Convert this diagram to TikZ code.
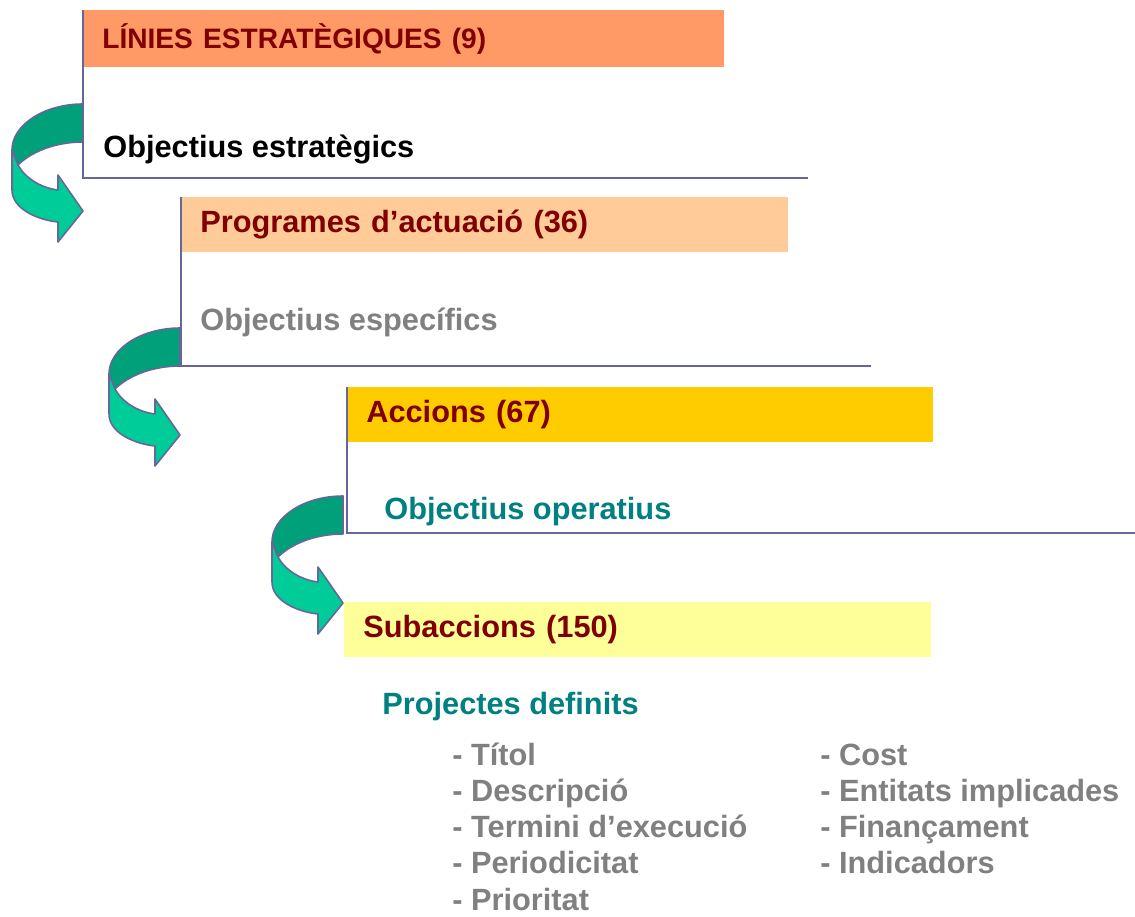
\documentclass[tikz,border=0pt]{standalone}
\usepackage{fontspec}
\setmainfont{Liberation Sans}
\usetikzlibrary{positioning}
\definecolor{salmon}{RGB}{255,153,102}
\definecolor{peach}{RGB}{255,204,153}
\definecolor{gold}{RGB}{255,204,0}
\definecolor{paleyellow}{RGB}{255,255,153}
\definecolor{darkred}{RGB}{128,0,0}
\definecolor{tealtxt}{RGB}{0,128,128}
\definecolor{greytxt}{RGB}{128,128,128}
\definecolor{framecol}{RGB}{102,102,153}
\definecolor{greendark}{RGB}{0,160,122}
\definecolor{greenlight}{RGB}{0,204,153}

\tikzset{
  uturn/.pic={
    \filldraw[fill=greendark, draw=framecol, line width=0.9pt, line join=round]
      (0,0) .. controls (-39,0) and (-71,21) .. (-71,46) -- (-65,61)
      .. controls (-52,48) and (-28,38) .. (0,38) -- cycle;
    \filldraw[fill=greenlight, draw=framecol, line width=0.9pt, line join=round]
      (-71,46) -- (-71,86) .. controls (-71,105) and (-45,116) .. (-25,118)
      -- (-25,138) -- (0,107) -- (-25,71) -- (-25,86)
      .. controls (-42,84) and (-58,74) .. (-65,61) -- cycle;
  }
}

\begin{document}
\begin{tikzpicture}[
  x=0.02cm, y=-0.02cm,
  headbox/.style={rectangle, anchor=north west, inner xsep=0.38cm, inner ysep=0pt,
                  align=left, text=darkred, font=\fontsize{17.5}{21}\selectfont\bfseries},
  txt/.style={anchor=base west, inner sep=0pt, font=\fontsize{17.5}{21}\selectfont\bfseries},
  frame/.style={draw=framecol, line width=0.9pt}
]
\useasboundingbox (0,0) rectangle (1135,916);

% headers
\node[headbox, fill=salmon, text width=12.06cm, minimum height=1.14cm] (lin) at (83,10)
  {{\fontsize{16}{20}\selectfont LÍNIES ESTRATÈGIQUES (9)}};
\node[headbox, fill=peach, text width=11.38cm, minimum height=1.1cm] (prog) at (181,197)
  {Programes d’actuació (36)};
\node[headbox, fill=gold, text width=10.96cm, minimum height=1.1cm] (acc) at (347,387)
  {Accions (67)};
\node[headbox, fill=paleyellow, text width=10.98cm, minimum height=1.1cm] (sub) at (344,602)
  {Subaccions (150)};

% frames
\draw[frame] (lin.north west) -- (83,178) -- (808,178);
\draw[frame] (prog.north west) -- (181,366) -- (871,366);
\draw[frame] (acc.north west) -- (347,533) -- (1135,533);

% objectives
\node[txt] (oestr) at (103,157) {Objectius estratègics};
\node[txt, text=greytxt] (oesp) at (200,330) {Objectius específics};
\node[txt, text=tealtxt] (oop) at (384,519) {Objectius operatius};
\node[txt, text=tealtxt] (proj) at (382,714) {Projectes definits};

% list
\node[txt, text=greytxt] (titol) at (452,765) {- Títol};
\node[txt, text=greytxt] (desc) at (452,801) {- Descripció};
\node[txt, text=greytxt] (term) at (452,837) {- Termini d’execució};
\node[txt, text=greytxt] (peri) at (452,873) {- Periodicitat};
\node[txt, text=greytxt] (prio) at (452,910) {- Prioritat};
\node[txt, text=greytxt] (cost) at (820,765) {- Cost};
\node[txt, text=greytxt] (ent) at (820,801) {- Entitats implicades};
\node[txt, text=greytxt] (fin) at (820,837) {- Finançament};
\node[txt, text=greytxt] (ind) at (820,873) {- Indicadors};

% u-turn arrows
\pic at (83,104) {uturn};
\pic at (180,328) {uturn};
\pic at (343,496) {uturn};

\end{tikzpicture}
\end{document}
